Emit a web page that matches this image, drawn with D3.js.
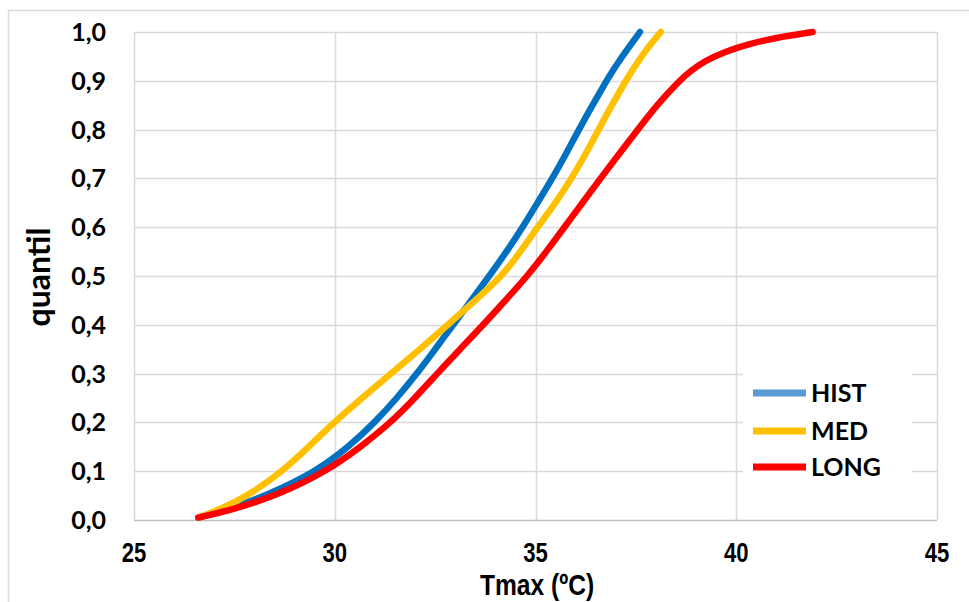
<!DOCTYPE html>
<html>
<head>
<meta charset="utf-8">
<script src="https://cdn.jsdelivr.net/npm/d3@7"></script>
<style>
  html, body { margin: 0; padding: 0; background: #fff; }
  svg { display: block; }
</style>
</head>
<body>
<svg id="chart" width="969" height="602"></svg>
<script>
// ---- data ----
const quantiles = [0.005, 0.02, 0.05, 0.1, 0.15, 0.2, 0.25, 0.3, 0.35, 0.4, 0.45, 0.5, 0.55, 0.6, 0.65, 0.7, 0.75, 0.8, 0.85, 0.9, 0.92, 0.94, 0.96, 0.975, 0.988, 1.0];
const histT = [26.6, 27.3, 28.3, 29.55, 30.35, 31.0, 31.55, 32.05, 32.5, 32.95, 33.4, 33.85, 34.28, 34.68, 35.05, 35.42, 35.76, 36.08, 36.42, 36.77, 36.92, 37.08, 37.25, 37.38, 37.5, 37.6];
const medT  = [26.6, 27.1, 27.85, 28.7, 29.35, 29.98, 30.68, 31.4, 32.12, 32.82, 33.5, 34.17, 34.63, 35.05, 35.5, 35.9, 36.25, 36.57, 36.9, 37.25, 37.4, 37.56, 37.73, 37.87, 38.0, 38.12];
const longT = [26.6, 27.4, 28.55, 29.8, 30.65, 31.4, 32.0, 32.55, 33.12, 33.7, 34.25, 34.8, 35.27, 35.72, 36.17, 36.62, 37.08, 37.55, 38.02, 38.58, 38.86, 39.2, 39.72, 40.3, 40.95, 41.9];
const seriesNames = ["HIST", "MED", "LONG"];
const seriesColors = ["#0070C0", "#FFC000", "#FF0000"];
const legendColors = ["#5B9BD5", "#FFC000", "#FF0000"];
const xTicks = [25, 30, 35, 40, 45];
const yTicks = [0, 0.1, 0.2, 0.3, 0.4, 0.5, 0.6, 0.7, 0.8, 0.9, 1.0];
const xTitle = "Tmax (ºC)";
const yTitle = "quantil";

// ---- layout ----
const svg = d3.select("#chart");
const pL = 134, pR = 937, pT = 32, pB = 520;
const x = d3.scaleLinear().domain([25, 45]).range([pL, pR]);
const y = d3.scaleLinear().domain([0, 1]).range([pB, pT]);
const narrowFont = "'Liberation Sans', Arial, sans-serif";
const bodyFont = "Lato, 'Open Sans', sans-serif";

// outer chart border (left + top visible)
svg.append("path")
  .attr("d", `M8.5,602 L8.5,10.5 L969,10.5`)
  .attr("fill", "none").attr("stroke", "#D9D9D9").attr("stroke-width", 1.5);

// gridlines
const grid = svg.append("g");
grid.selectAll("line.h").data(yTicks.filter(d => d > 0)).join("line")
  .attr("x1", pL).attr("x2", pR)
  .attr("y1", d => Math.round(y(d)) + 0.5).attr("y2", d => Math.round(y(d)) + 0.5)
  .attr("stroke", "#D9D9D9").attr("stroke-width", 1.5);
grid.selectAll("line.v").data(xTicks).join("line")
  .attr("y1", pT).attr("y2", pB)
  .attr("x1", d => Math.round(x(d)) + 0.5).attr("x2", d => Math.round(x(d)) + 0.5)
  .attr("stroke", "#D9D9D9").attr("stroke-width", 1.5);

// x axis line
svg.append("line")
  .attr("x1", pL).attr("x2", pR).attr("y1", pB + 0.5).attr("y2", pB + 0.5)
  .attr("stroke", "#BFBFBF").attr("stroke-width", 1.5);

// y axis labels
const yFmt = d => d.toFixed(1).replace(".", ",");
svg.append("g").selectAll("text").data(yTicks).join("text")
  .attr("x", 106).attr("y", d => y(d))
  .attr("dy", "0.36em")
  .attr("text-anchor", "end")
  .attr("font-family", bodyFont)
  .attr("font-weight", "bold").attr("font-size", 25)
  .attr("fill", "#000")
  .text(yFmt);

// x axis labels (condensed)
svg.append("g").selectAll("text").data(xTicks).join("text")
  .attr("transform", d => `translate(${x(d)},562) scale(0.82,1)`)
  .attr("text-anchor", "middle")
  .attr("font-family", narrowFont)
  .attr("font-weight", "bold").attr("font-size", 27)
  .attr("fill", "#000")
  .text(d => d);

// axis titles
svg.append("text")
  .attr("transform", `translate(537,595) scale(0.82,1)`)
  .attr("text-anchor", "middle")
  .attr("font-family", narrowFont)
  .attr("font-weight", "bold").attr("font-size", 30)
  .text(xTitle);
svg.append("text")
  .attr("transform", `translate(50,${277}) rotate(-90)`)
  .attr("text-anchor", "middle")
  .attr("font-family", bodyFont)
  .attr("font-weight", "bold").attr("font-size", 32)
  .text(yTitle);

// lines
const allSeries = [histT, medT, longT];
const line = d3.line()
  .x(d => x(d[0])).y(d => y(d[1]))
  .curve(d3.curveBasis);
svg.append("g").selectAll("path").data(allSeries).join("path")
  .attr("d", s => line(s.map((t, i) => [t, quantiles[i]])))
  .attr("fill", "none")
  .attr("stroke", (s, i) => seriesColors[i])
  .attr("stroke-width", 6.5)
  .attr("stroke-linecap", "round")
  .attr("stroke-linejoin", "round");

// legend
const lg = svg.append("g");
lg.append("rect").attr("x", 743).attr("y", 366).attr("width", 169).attr("height", 118).attr("fill", "#fff");
const legendY = [393, 431, 467];
lg.selectAll("line").data(seriesNames).join("line")
  .attr("x1", 753).attr("x2", 806)
  .attr("y1", (d, i) => legendY[i]).attr("y2", (d, i) => legendY[i])
  .attr("stroke", (d, i) => legendColors[i]).attr("stroke-width", 7);
lg.selectAll("text").data(seriesNames).join("text")
  .attr("x", 811).attr("y", (d, i) => legendY[i])
  .attr("dy", "0.36em")
  .attr("font-family", bodyFont)
  .attr("font-weight", "bold").attr("font-size", 25)
  .attr("fill", "#000")
  .text(d => d);
</script>
</body>
</html>
